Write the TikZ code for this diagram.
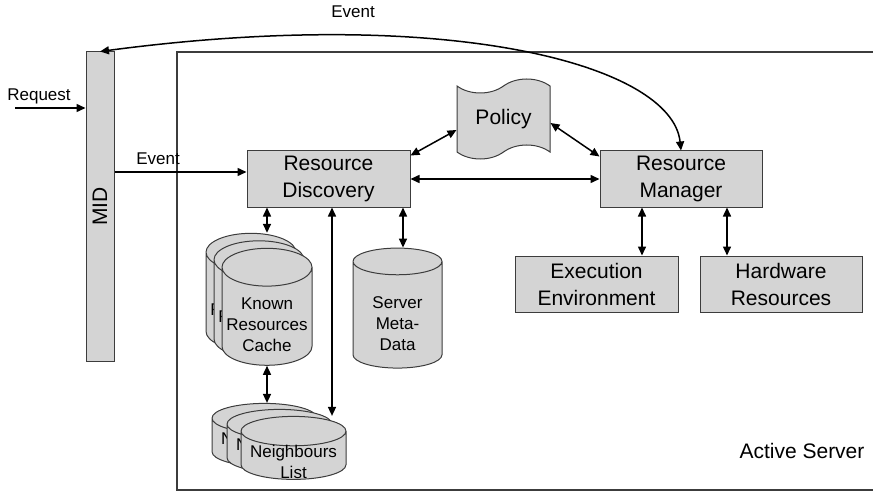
\documentclass[tikz,border=0pt]{standalone}
\usepackage{fontspec}
\setmainfont{Liberation Sans}
\usetikzlibrary{shapes.geometric, shapes.symbols, arrows.meta, positioning}
\definecolor{boxgray}{RGB}{212,212,212}
\definecolor{edgegray}{RGB}{60,60,60}

\begin{document}
\begin{tikzpicture}[x=1pt, y=-1pt]
    \tikzset{
        box/.style = {rectangle, draw=edgegray, fill=boxgray, line width=1pt, align=center, minimum width=162pt, minimum height=56pt, inner sep=0pt, font=\fontsize{21}{27}\selectfont},
        bar/.style = {rectangle, draw=edgegray, fill=boxgray, line width=1pt, minimum width=28pt, minimum height=309pt, inner sep=0pt, font=\fontsize{21}{27}\selectfont},
        store/.style = {cylinder, shape border rotate=90, draw=edgegray, fill=boxgray, line width=1pt, inner sep=0pt},
        storetext/.style = {align=center, inner sep=0pt, font=\fontsize{17}{21}\selectfont},
        doc/.style = {tape, draw=edgegray, fill=boxgray, line width=1pt, minimum width=93pt, minimum height=80pt, tape bend height=14pt, font=\fontsize{21}{27}\selectfont},
        line/.style = {draw, line width=1.5pt, -{Triangle[length=9pt, width=8pt]}},
        biline/.style = {draw, line width=1.5pt, {Triangle[length=9pt, width=8pt]}-{Triangle[length=9pt, width=8pt]}},
        lbl/.style = {inner sep=0pt, font=\fontsize{17}{20}\selectfont}
    }
    \useasboundingbox (0,0) rectangle (873,492);

    % active server frame
    \draw[edgegray, line width=1.2pt] (177,52) rectangle (885,490);
    \node[inner sep=0pt, font=\fontsize{21}{27}\selectfont] (srvlbl) at (802,451) {Active Server};

    \node[bar] (mid) at (100,206.5) {\rotatebox{90}{MID}};
    \node[box, minimum width=163pt] (rd) at (328.5,179) {Resource\\Discovery};
    \node[doc] (policy) at (503.5,119) {Policy};
    \node[box] (rm) at (681,179) {Resource\\Manager};
    \node[box, minimum width=163pt] (ee) at (596.5,284) {Execution\\Environment};
    \node[box, right=21pt of ee] (hr) {Hardware\\Resources};

    % stores (back copies first)
    \node[store, text width=89pt, minimum height=120pt, aspect=0.3] (smd) at (397.5,315) {};
    \node[storetext] (smdtext) at ([yshift=-9pt]smd.center) {Server\\Meta-\\Data};
    \node[store, text width=90pt, minimum height=117pt, aspect=0.42] (krc3) at (251,301.5) {};
    \node[storetext] (krc3text) at ([yshift=-8pt]krc3.center) {Known\\Resources\\Cache};
    \node[store, text width=90pt, minimum height=117pt, aspect=0.42] (krc2) at (259,309) {};
    \node[storetext] (krc2text) at ([yshift=-8pt]krc2.center) {Known\\Resources\\Cache};
    \node[store, text width=90pt, minimum height=117pt, aspect=0.42] (krc) at (267,316.5) {};
    \node[storetext] (krctext) at ([yshift=-8pt]krc.center) {Known\\Resources\\Cache};
    \node[store, text width=105pt, minimum height=63pt, aspect=0.28] (nl3) at (264.5,442.5) {};
    \node[storetext] (nl3text) at ([yshift=-6pt]nl3.center) {Neighbours\\List};
    \node[store, text width=105pt, minimum height=63pt, aspect=0.28] (nl2) at (279.5,448.5) {};
    \node[storetext] (nl2text) at ([yshift=-6pt]nl2.center) {Neighbours\\List};
    \node[store, text width=105pt, minimum height=63pt, aspect=0.28] (nl) at (293.5,455.5) {};
    \node[storetext] (nltext) at ([yshift=-6pt]nl.center) {Neighbours\\List};

    % connectors
    \coordinate (reqin) at (15,108);
    \draw[line] (reqin) -- (reqin -| mid.west);
    \node[lbl] (reqlbl) at (39,96) {Request};
    \draw[line] ([yshift=7pt]rd.west -| mid.east) -- ([yshift=7pt]rd.west);
    \node[lbl] (evlbl) at (158,159) {Event};
    \path[biline] (rm.north) .. controls (672,65) and (450,5) .. (mid.north);
    \node[lbl] (toplbl) at (353,12) {Event};

    \path[biline] ([yshift=-5pt]rd.north east) -- ([yshift=-11pt]policy.west);
    \path[biline] ([yshift=-4pt]policy.east) -- ([yshift=-6pt]rm.north west);
    \path[biline] (rd.east) -- (rm.west);
    \path[biline] (krc.north |- rd.south) -- (krc.north |- krc3.north);
    \path[biline] ([xshift=3.5pt]rd.south) -- ([xshift=3.5pt]rd.south |- nl.north);
    \path[biline] ([xshift=5.5pt]smd.north |- rd.south) -- ([xshift=5.5pt]smd.north);
    \path[biline] (krc.south) -- (krc.south |- nl3.north);
    \path[biline] ([xshift=-39pt]rm.south) -- ([xshift=-39pt]rm.south |- ee.north);
    \path[biline] ([xshift=46pt]rm.south) -- ([xshift=46pt]rm.south |- hr.north);
\end{tikzpicture}
\end{document}
